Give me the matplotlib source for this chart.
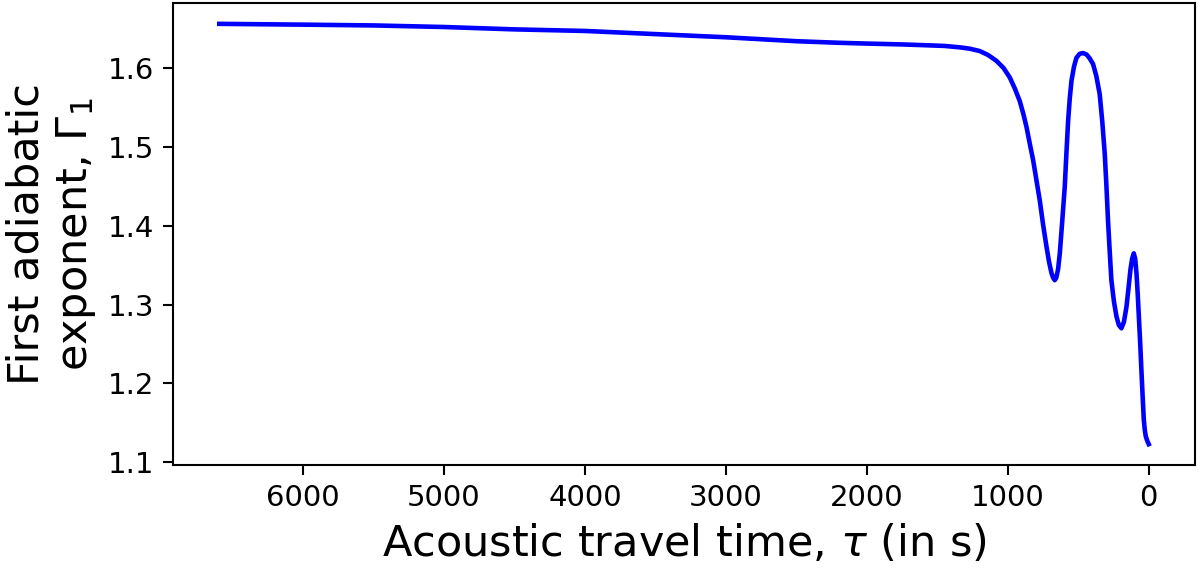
import matplotlib.pyplot as plt

# acoustic travel time (s) and first adiabatic exponent
tau = [6595, 6000, 5500, 5000, 4500, 4000, 3500, 3000, 2500, 2200, 2000, 1766,
       1600, 1450, 1340, 1270, 1199, 1140, 1080, 1030, 986, 950, 915, 890, 867,
       845, 820, 797, 773, 750, 725, 707, 690, 678, 667, 656, 643, 631, 614,
       596, 584, 572, 560, 548, 530, 513, 490, 466, 440, 418, 395, 372, 348,
       330, 312, 300, 289, 277, 265, 247, 229, 212, 194, 176, 158, 144, 130,
       118, 106, 96, 87, 78, 69, 60, 52, 43, 35, 28, 21, 10, 0]
gamma1 = [1.656, 1.655, 1.654, 1.652, 1.649, 1.647, 1.643, 1.639, 1.634, 1.632,
          1.631, 1.630, 1.629, 1.628, 1.6262, 1.6245, 1.6215, 1.6165, 1.609,
          1.600, 1.588, 1.574, 1.558, 1.542, 1.525, 1.505, 1.483, 1.458, 1.432,
          1.402, 1.373, 1.354, 1.340, 1.334, 1.331, 1.334, 1.345, 1.365, 1.405,
          1.449, 1.492, 1.533, 1.562, 1.584, 1.602, 1.613, 1.618, 1.619, 1.617,
          1.612, 1.605, 1.590, 1.567, 1.533, 1.491, 1.450, 1.407, 1.368, 1.331,
          1.304, 1.285, 1.274, 1.270, 1.278, 1.297, 1.320, 1.344, 1.358, 1.365,
          1.358, 1.340, 1.313, 1.281, 1.249, 1.217, 1.183, 1.154, 1.141, 1.133,
          1.127, 1.123]

fig = plt.figure(figsize=(12, 5.68), dpi=100)
ax = fig.add_axes([0.144, 0.181, 0.852, 0.814])
ax.plot(tau, gamma1, color='blue', linewidth=3.3)
ax.invert_xaxis()

ax.set_xlabel(r'Acoustic travel time, $\tau$ (in s)', fontsize=31, labelpad=8)
ax.set_ylabel('First adiabatic\nexponent, $\\Gamma_1$', fontsize=31, labelpad=7)
ax.tick_params(labelsize=21, length=7.5, width=1.5, pad=6)
for s in ax.spines.values():
    s.set_linewidth(1.5)

plt.savefig('out.png', dpi=100)
